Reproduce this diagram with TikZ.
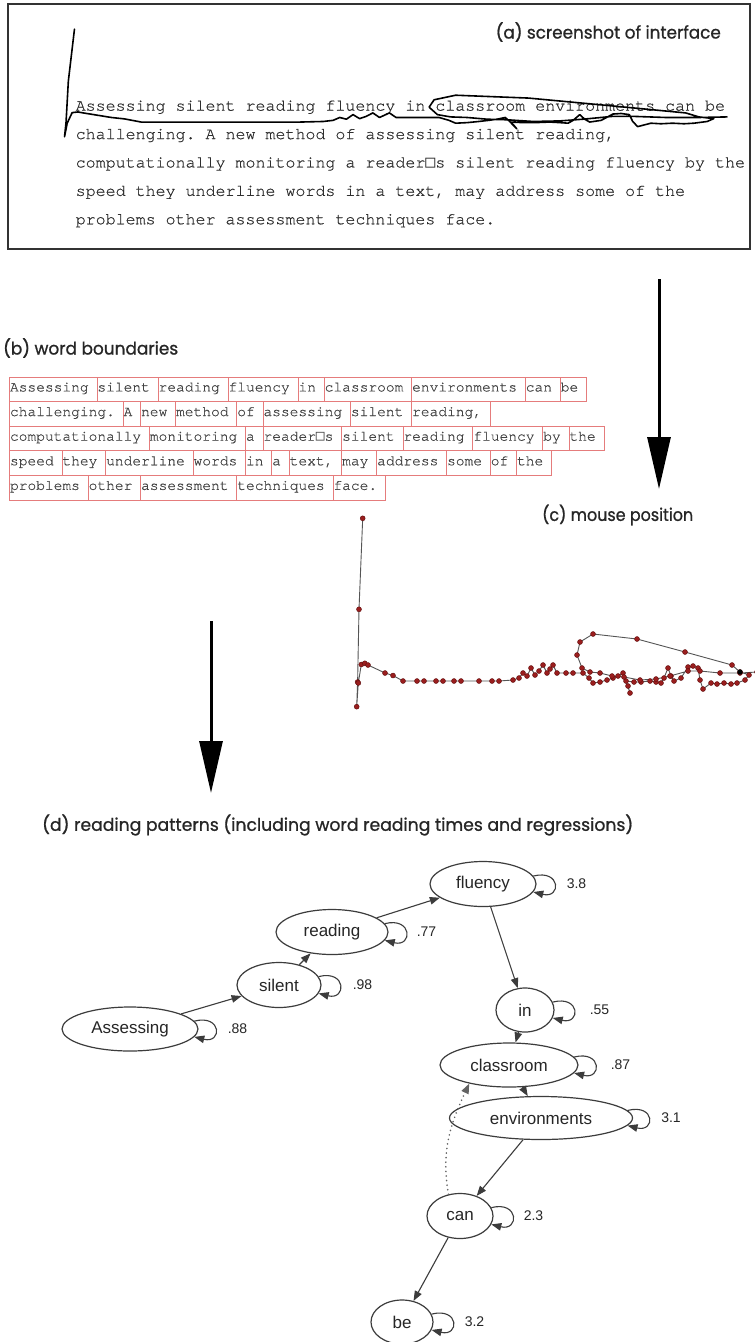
\documentclass[tikz,border=0pt]{standalone}
\usepackage{fontspec}
\usepackage{graphicx}
\usetikzlibrary{shapes.geometric,arrows.meta}
\newfontfamily\geo[FakeBold=0.9]{Poppins}
\newfontfamily\monoA[WordSpace={1,0,0},Ligatures=CommonOff,FakeBold=0.5]{TeX Gyre Cursor}
\newfontfamily\boxfont{DejaVu Sans Mono}
\newfontfamily\gvfont{Liberation Sans}
\newcommand{\qbox}{\makebox[0.6em]{\boxfont □}}
\newcommand{\capt}[2]{\resizebox{#1}{\height}{\geo\fontsize{17.5}{20}\selectfont #2}}
\definecolor{framec}{HTML}{333333}
\definecolor{boxred}{HTML}{E57C7C}
\definecolor{dotred}{HTML}{9A1E1E}
\definecolor{dotdark}{HTML}{5E0D0D}
\definecolor{tracegray}{HTML}{555555}
\definecolor{textgray}{HTML}{2E2E2E}
\definecolor{edgec}{HTML}{3C3C3C}
\def\tracelist{359.0/609.3, 357.6/682.0, 356.7/706.7, 358.3/683, 361.3/664.5, 364.8/663.3, 368/665, 385/673, 393/675.5, 403/681, 417/681, 424/681, 436/681, 443/681, 454/681, 461/681, 479/681, 492/681, 499/681, 513/680, 519/678, 523/673, 527/676, 531/668, 535/675, 539/671, 543/665, 547/673, 550/669, 553/665, 557/673, 566/673, 573/673, 583/673, 589/678, 593/683, 600/682, 607/680, 613/678, 618/676, 623/673, 628/686, 630/693, 626/681, 634/682, 641/682, 650/681, 656/682, 661/683, 664/678, 668/668, 671/676, 674/681, 681/678, 688/667, 693/666, 698/668, 700/680, 703/689, 711/683, 717/684, 724/683, 731/684, 737/683, 745/680, 749/675, 740/672, 732/665, 685/652, 637/639, 593/634, 580/642, 577/655, 582/668, 590/672, 600/673, 612/676, 624/677, 640/680, 656/679, 670/676, 688/671, 700/671, 720/673, 740/673, 757/672}
\begin{document}
\begin{tikzpicture}[x=1pt,y=-1pt,
  panellabel/.style={inner sep=0, text=black!85},
  screentext/.style={font=\monoA\frenchspacing\fontsize{16.65}{20}\selectfont, text=textgray, inner sep=0, anchor=mid west},
  wbtext/.style={font=\monoA\frenchspacing\fontsize{14.57}{17}\selectfont, text=textgray!90, inner sep=0, anchor=mid west},
  wordbox/.style={draw=boxred, line width=0.8pt},
  bigarrow/.style={line width=3pt, -{Triangle[length=52pt,width=23pt]}},
  word/.style={ellipse, draw=edgec, line width=1.2pt, inner sep=0, font=\gvfont\fontsize{17}{20}\selectfont, text=black!85},
  gedge/.style={draw=edgec, line width=1.1pt, -{Triangle[length=10pt,width=7.5pt]}},
  regress/.style={draw=edgec!80, line width=1.7pt, dash pattern=on 0.1pt off 4.5pt, line cap=round, -{Triangle[length=10pt,width=7.5pt]}},
  looplab/.style={anchor=west, inner sep=0, font=\gvfont\fontsize{14}{16}\selectfont, text=black!85},
  pentrace/.style={draw=black, line width=1.6pt, line join=round, line cap=round},
  mousetrace/.style={draw=tracegray, line width=0.9pt, line join=round}
]
\useasboundingbox (0,0) rectangle (755,1342);
\clip (0,0) rectangle (755,1342);
\fill[white] (0,0) rectangle (755,1342);

% ---------- (a) screenshot ----------
\draw[framec, line width=1.8pt] (8,4) rectangle (750,249);
\node[panellabel, anchor=east] (capa) at (721,32) {\capt{225pt}{(a) screenshot of interface}};
\node[screentext] (t1) at (75.5,108.5) {Assessing silent reading fluency in classroom environments can be};
\node[screentext] (t2) at (75.5,136.9) {challenging. A new method of assessing silent reading,};
\node[screentext] (t3) at (75.5,165.3) {computationally monitoring a reader\qbox s silent reading fluency by the};
\node[screentext] (t4) at (75.5,193.7) {speed they underline words in a text, may address some of the};
\node[screentext] (t5) at (75.5,222.1) {problems other assessment techniques face.};
\begin{scope}[shift={(-525.8,-266.8)}, xscale=1.655, yscale=0.571]
  \draw[pentrace] (362.7,518.3) \foreach \x/\y in \tracelist {-- (\x,\y)};
\end{scope}

% ---------- arrows ----------
\coordinate (a1s) at (659,279);
\coordinate (a1e) at (659,489);
\draw[bigarrow] (a1s) -- (a1e);
\coordinate (a2s) at (211,621);
\coordinate (a2e) at (211,793);
\draw[bigarrow] (a2s) -- (a2e);

% ---------- (b) word boundaries ----------
\node[panellabel, anchor=west] (capb) at (3,348) {\capt{175pt}{(b) word boundaries}};
\foreach \r/\ends/\divs in {0/66/{10,17,25,33,36,46,59,63}, 1/55/{13,15,19,26,29,39,46}, 2/68/{16,27,29,38,45,53,61,64}, 3/62/{6,11,21,27,30,32,38,42,50,55,58}, 4/43/{9,15,26,37}} {
  \draw[wordbox] (9.6,377+\r*24.6) rectangle (9.6+\ends*8.74,401.6+\r*24.6);
  \foreach \d in \divs {\draw[wordbox] (9.6+\d*8.74,377+\r*24.6) -- (9.6+\d*8.74,401.6+\r*24.6);}
}
\node[wbtext] (w1) at (9.8,389.3) {Assessing silent reading fluency in classroom environments can be};
\node[wbtext] (w2) at (9.8,413.9) {challenging. A new method of assessing silent reading,};
\node[wbtext] (w3) at (9.8,438.5) {computationally monitoring a reader\qbox s silent reading fluency by the};
\node[wbtext] (w4) at (9.8,463.1) {speed they underline words in a text, may address some of the};
\node[wbtext] (w5) at (9.8,487.7) {problems other assessment techniques face.};

% ---------- (c) mouse position ----------
\node[panellabel, anchor=west] (capc) at (542,515) {\capt{151pt}{(c) mouse position}};
\draw[mousetrace] (362.7,518.3) \foreach \x/\y in \tracelist {-- (\x,\y)};
\fill[dotred, draw=dotdark, line width=0.4pt] (362.7,518.3) circle (2.5pt);
\foreach \x/\y in \tracelist {\fill[dotred, draw=dotdark, line width=0.4pt] (\x,\y) circle (2.5pt);}
\fill[black] (740,672) circle (2.7pt);

% ---------- (d) reading patterns ----------
\node[panellabel, anchor=west] (capd) at (42,825) {\capt{591pt}{(d) reading patterns (including word reading times and regressions)}};

\node[word, minimum width=136pt, minimum height=44pt] (A) at (130,1029) {Assessing};
\node[word, minimum width=84pt, minimum height=45pt] (S) at (279,985) {silent};
\node[word, minimum width=112pt, minimum height=45pt] (R) at (332,932) {reading};
\node[word, minimum width=106pt, minimum height=45pt] (F) at (483,884) {fluency};
\node[word, minimum width=58pt, minimum height=44pt] (I) at (525,1010) {in};
\node[word, minimum width=138pt, minimum height=44pt] (C) at (509,1065) {classroom};
\node[word, minimum width=183pt, minimum height=43pt] (E) at (541,1118) {environments};
\node[word, minimum width=66pt, minimum height=45pt] (N) at (460,1216) {can};
\node[word, minimum width=62pt, minimum height=44pt] (B) at (402,1322) {be};

\draw[gedge] (A) -- (S);
\draw[gedge] (S) -- (R);
\draw[gedge] (R) -- (F);
\draw[gedge] (F) -- (I);
\draw[gedge] (I) -- (C);
\draw[gedge] (C) -- (E);
\draw[gedge] (E) -- (N);
\draw[gedge] (N) -- (B);
\draw[regress] (N.118) to[out=100,in=245] (C.205);

\foreach \n/\ang in {A/7, S/12, R/9, F/9, I/16, C/7, E/5, N/15, B/15} {
  \draw[gedge] (\n.\ang) .. controls +(28pt,7pt) and +(28pt,-7pt) .. (\n.-\ang);
}

\node[looplab] (lA) at ([xshift=29pt]A.east) {.88};
\node[looplab] (lS) at ([xshift=31pt]S.east) {.98};
\node[looplab] (lR) at ([xshift=28pt]R.east) {.77};
\node[looplab] (lF) at ([xshift=30pt]F.east) {3.8};
\node[looplab] (lI) at ([xshift=35pt]I.east) {.55};
\node[looplab] (lC) at ([xshift=32pt]C.east) {.87};
\node[looplab] (lE) at ([xshift=28pt]E.east) {3.1};
\node[looplab] (lN) at ([xshift=30pt]N.east) {2.3};
\node[looplab] (lB) at ([xshift=31pt]B.east) {3.2};
\end{tikzpicture}
\end{document}
